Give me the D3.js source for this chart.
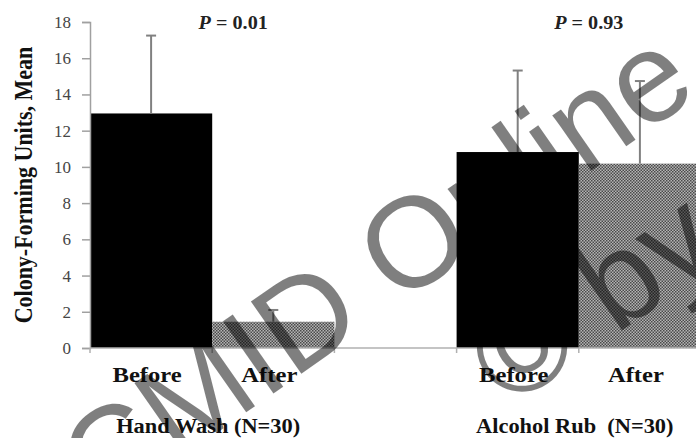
<!DOCTYPE html>
<html>
<head>
<meta charset="utf-8">
<script src="https://cdnjs.cloudflare.com/ajax/libs/d3/7.8.5/d3.min.js"></script>
<style>
body { margin: 0; background: #fff; }
text { font-family: "Liberation Serif", "Times New Roman", serif; }
</style>
</head>
<body>
<div id="chart"></div>
<script>
// chart data
var groups = ["Hand Wash (N=30)", "Alcohol Rub  (N=30)"];
var phases = ["Before", "After"];
var means = [[12.95, 1.45], [10.82, 10.18]];
var errors = [[4.3, 0.65], [4.5, 4.56]];
var pValues = ["0.01", "0.93"];
var yTicks = [0, 2, 4, 6, 8, 10, 12, 14, 16, 18];

var W = 696, H = 438;
var x0 = 90, yBase = 348, yTop = 22;
var sx = 1.12; // text is a bit wide in the source

var svg = d3.select("#chart").append("svg")
    .attr("width", W)
    .attr("height", H);

svg.append("rect").attr("width", W).attr("height", H).attr("fill", "#fff");

// checker fill for the "After" bars
var defs = svg.append("defs");
var pat = defs.append("pattern")
    .attr("id", "dots")
    .attr("patternUnits", "userSpaceOnUse")
    .attr("width", 3).attr("height", 3);
pat.append("rect").attr("width", 3).attr("height", 3).attr("fill", "#b4b4b4");
pat.append("rect").attr("x", 0).attr("y", 0).attr("width", 1.5).attr("height", 1.5).attr("fill", "#4a4a4a");
pat.append("rect").attr("x", 1.5).attr("y", 1.5).attr("width", 1.5).attr("height", 1.5).attr("fill", "#4a4a4a");

// flat list of bars with an empty slot between the groups
var bars = [];
var keys = [];
groups.forEach(function(g, gi) {
    if (gi > 0) keys.push("gap" + gi);
    phases.forEach(function(p, pi) {
        var k = gi + "-" + pi;
        keys.push(k);
        bars.push({key: k, group: gi, phase: pi, label: p, mean: means[gi][pi], err: errors[gi][pi]});
    });
});

var x = d3.scaleBand().domain(keys).range([x0, 701]).padding(0);
var y = d3.scaleLinear().domain([0, 18]).range([yBase, yTop]);

// bars
svg.selectAll("rect.bar")
    .data(bars)
    .enter().append("rect")
    .attr("class", "bar")
    .attr("x", function(d) { return x(d.key); })
    .attr("width", x.bandwidth())
    .attr("y", function(d) { return y(d.mean); })
    .attr("height", function(d) { return yBase - y(d.mean); })
    .attr("fill", function(d) { return d.phase === 0 ? "#000" : "url(#dots)"; });

// error bars (upper only)
var eb = svg.selectAll("g.err")
    .data(bars)
    .enter().append("g")
    .attr("class", "err")
    .attr("stroke", "#808080")
    .attr("stroke-width", 2);
eb.append("line")
    .attr("x1", function(d) { return x(d.key) + x.bandwidth() / 2; })
    .attr("x2", function(d) { return x(d.key) + x.bandwidth() / 2; })
    .attr("y1", function(d) { return y(d.mean); })
    .attr("y2", function(d) { return y(d.mean + d.err); });
eb.append("line")
    .attr("x1", function(d) { return x(d.key) + x.bandwidth() / 2 - 5; })
    .attr("x2", function(d) { return x(d.key) + x.bandwidth() / 2 + 5; })
    .attr("y1", function(d) { return y(d.mean + d.err); })
    .attr("y2", function(d) { return y(d.mean + d.err); });

// Y axis
var yAxis = svg.append("g")
    .attr("transform", "translate(" + x0 + ",0)")
    .call(d3.axisLeft(y).tickValues(yTicks).tickSize(8).tickPadding(11));
yAxis.select(".domain").attr("stroke", "#a0a0a0").attr("stroke-width", 1.5);
yAxis.selectAll(".tick line").attr("stroke", "#a0a0a0").attr("stroke-width", 1.5);
yAxis.selectAll(".tick text")
    .attr("font-family", "Liberation Serif, serif")
    .attr("font-size", 17)
    .attr("fill", "#454545");

// X axis line and ticks at slot edges
svg.append("line")
    .attr("x1", x0).attr("x2", W)
    .attr("y1", yBase).attr("y2", yBase)
    .attr("stroke", "#b0b0b0").attr("stroke-width", 1.5);
var edges = keys.map(function(k) { return x(k); }).concat([x.range()[1]]);
svg.selectAll("line.xtick")
    .data(edges)
    .enter().append("line")
    .attr("class", "xtick")
    .attr("x1", function(d) { return d; }).attr("x2", function(d) { return d; })
    .attr("y1", yBase).attr("y2", yBase + 5)
    .attr("stroke", "#b0b0b0").attr("stroke-width", 1.5);

// Before / After labels
svg.selectAll("text.phase")
    .data(bars)
    .enter().append("text")
    .attr("class", "phase")
    .attr("transform", function(d) { return "translate(" + (x(d.key) + x.bandwidth() / 2 - 4) + ",382) scale(" + sx + ",1)"; })
    .attr("text-anchor", "middle")
    .attr("font-weight", "bold")
    .attr("font-size", 22)
    .attr("fill", "#111")
    .text(function(d) { return d.label; });

// group labels
function groupCenter(gi) {
    return (x(gi + "-0") + x(gi + "-1") + x.bandwidth()) / 2;
}
svg.selectAll("text.group")
    .data(groups)
    .enter().append("text")
    .attr("class", "group")
    .attr("transform", function(d, i) { return "translate(" + (groupCenter(i) - 4) + ",433) scale(" + sx + ",1)"; })
    .attr("text-anchor", "middle")
    .attr("font-weight", "bold")
    .attr("font-size", 20)
    .attr("fill", "#111")
    .style("white-space", "pre")
    .text(function(d) { return d; });

// P values
var pShift = [21, 10];
var pl = svg.selectAll("text.pval")
    .data(pValues)
    .enter().append("text")
    .attr("class", "pval")
    .attr("transform", function(d, i) { return "translate(" + (groupCenter(i) + pShift[i]) + ",29) scale(" + sx + ",1)"; })
    .attr("text-anchor", "middle")
    .attr("font-weight", "bold")
    .attr("font-size", 18)
    .attr("fill", "#222");
pl.append("tspan").attr("font-style", "italic").text("P");
pl.append("tspan").text(function(d) { return " = " + d; });

// y axis title
svg.append("text")
    .attr("transform", "translate(32," + ((yBase + yTop) / 2) + ") scale(" + sx + ",1) rotate(-90)")
    .attr("text-anchor", "middle")
    .attr("font-weight", "bold")
    .attr("font-size", 22)
    .attr("fill", "#111")
    .text("Colony-Forming Units, Mean");

// watermark, each line hung on one of its letters
var wmSize = 128;
function watermark(txt, cx, cy, lead) {
    svg.append("g")
        .attr("transform", "translate(" + cx + "," + cy + ") rotate(-35)")
        .append("text")
        .attr("x", -lead * wmSize)
        .attr("y", 0.36 * wmSize)
        .attr("fill", "#000")
        .attr("fill-opacity", 0.5)
        .style("font-family", "Liberation Sans, Arial, sans-serif")
        .style("font-size", wmSize + "px")
        .text(txt);
}
watermark("CMID Online", 412, 240, 3.222);
watermark("\u00A9 by", 521, 345, 0.368);
</script>
</body>
</html>
